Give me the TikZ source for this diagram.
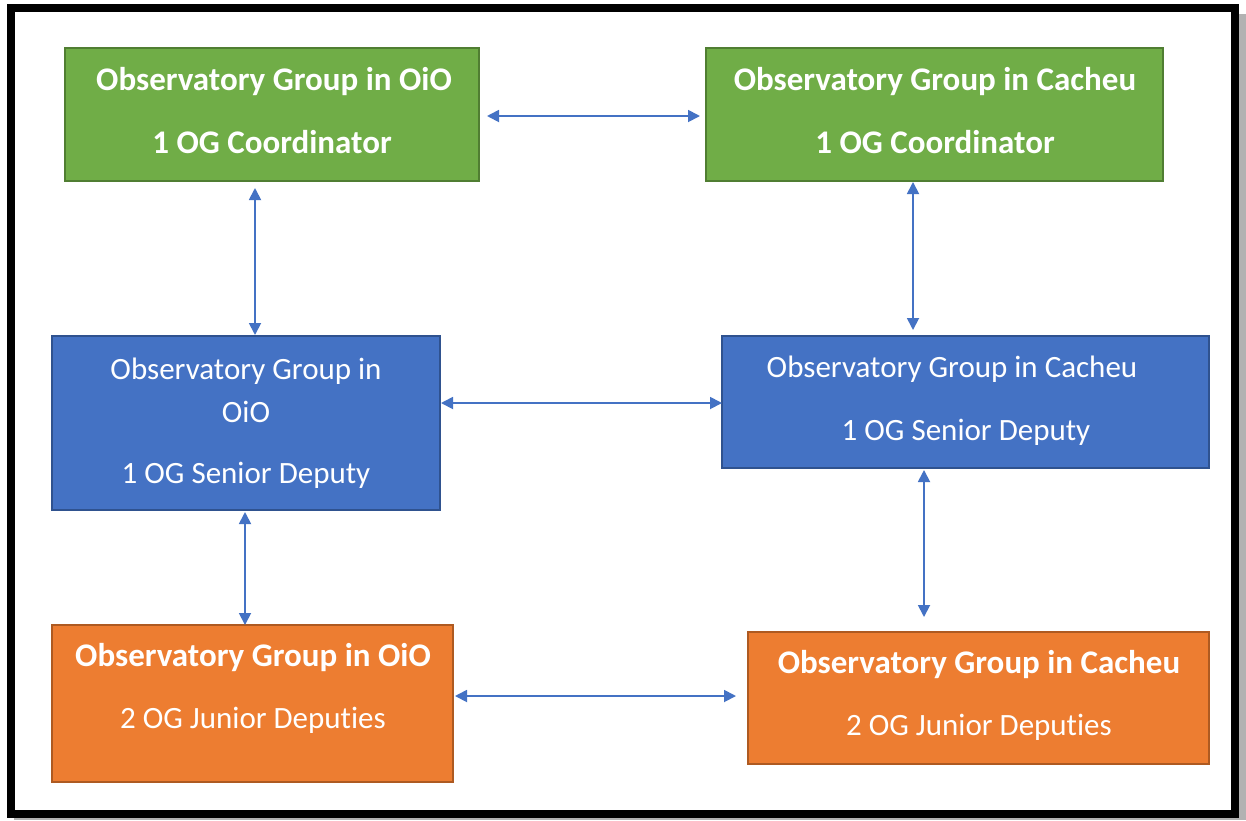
\documentclass[tikz,border=0pt]{standalone}
\usepackage{fontspec}
\setmainfont[Ligatures=NoCommon]{Carlito}
\usetikzlibrary{arrows.meta}
\definecolor{ogreen}{HTML}{70AD47}
\definecolor{ogreenb}{HTML}{507E32}
\definecolor{oblue}{HTML}{4472C4}
\definecolor{oblueb}{HTML}{2F528F}
\definecolor{oorange}{HTML}{ED7D31}
\definecolor{oorangeb}{HTML}{AE5A21}
\definecolor{arrowc}{HTML}{4472C4}
\tikzset{
  box/.style={draw=#1b, fill=#1, line width=2pt, minimum width=0pt, minimum height=0pt, inner sep=0pt},
  lbl/.style={text=white, anchor=base, inner sep=0pt, font=\fontsize{31}{36}\selectfont},
  blbl/.style={lbl, font=\fontsize{33}{38}\selectfont\bfseries},
  link/.style={draw=arrowc, line width=1.8pt, {Triangle[length=12pt,width=12pt]}-{Triangle[length=12pt,width=12pt]}},
  frame/.style={draw=black, line width=8pt}
}
\begin{document}
\begin{tikzpicture}[x=1pt,y=-1pt]
\useasboundingbox (0,0) rectangle (1246,820);
\fill[white] (0,0) rectangle (1246,820);
% shadow and frame
\fill[black!30] (1239,14) rectangle (1246,820);
\fill[black!30] (14,818) rectangle (1246,820);
\draw[frame] (11,8) rectangle (1235,814);

% boxes
\path[box=ogreen]  (65,48) rectangle (479,181) node[midway] (gO) {};
\path[box=ogreen]  (706,48) rectangle (1163,181) node[midway] (gC) {};
\path[box=oblue]   (52,336) rectangle (440,510) node[midway] (bO) {};
\path[box=oblue]   (722,336) rectangle (1209,468) node[midway] (bC) {};
\path[box=oorange] (52,625) rectangle (453,782) node[midway] (oO) {};
\path[box=oorange] (748,632) rectangle (1209,764) node[midway] (oC) {};

% texts
\node[blbl] (gO1) at (274,90) {Observatory Group in OiO};
\node[blbl] (gO2) at (272,153) {1 OG Coordinator};
\node[blbl] (gC1) at (935,90) {Observatory Group in Cacheu};
\node[blbl] (gC2) at (935,153) {1 OG Coordinator};

\node[lbl] (bO1) at (246,379) {Observatory Group in};
\node[lbl] (bO2) at (246,422) {OiO};
\node[lbl] (bO3) at (246,483) {1 OG Senior Deputy};
\node[lbl] (bC1) at (952,377) {Observatory Group in Cacheu};
\node[lbl] (bC2) at (966,440) {1 OG Senior Deputy};

\node[blbl] (oO1) at (253,666) {Observatory Group in OiO};
\node[lbl]  (oO2) at (253,728) {2 OG Junior Deputies};
\node[blbl] (oC1) at (979,673) {Observatory Group in Cacheu};
\node[lbl]  (oC2) at (979,735) {2 OG Junior Deputies};

% connector ends
\coordinate (a1s) at (487,116); \coordinate (a1e) at (700,116);
\coordinate (a2s) at (255,188); \coordinate (a2e) at (255,335);
\coordinate (a3s) at (913,182); \coordinate (a3e) at (913,330);
\coordinate (a4s) at (441,403); \coordinate (a4e) at (722,403);
\coordinate (a5s) at (245,512); \coordinate (a5e) at (245,625);
\coordinate (a6s) at (924,470); \coordinate (a6e) at (924,617);
\coordinate (a7s) at (455,696); \coordinate (a7e) at (736,696);

\draw[link] (a1s) -- (a1e);
\draw[link] (a2s) -- (a2e);
\draw[link] (a3s) -- (a3e);
\draw[link] (a4s) -- (a4e);
\draw[link] (a5s) -- (a5e);
\draw[link] (a6s) -- (a6e);
\draw[link] (a7s) -- (a7e);
\end{tikzpicture}
\end{document}
